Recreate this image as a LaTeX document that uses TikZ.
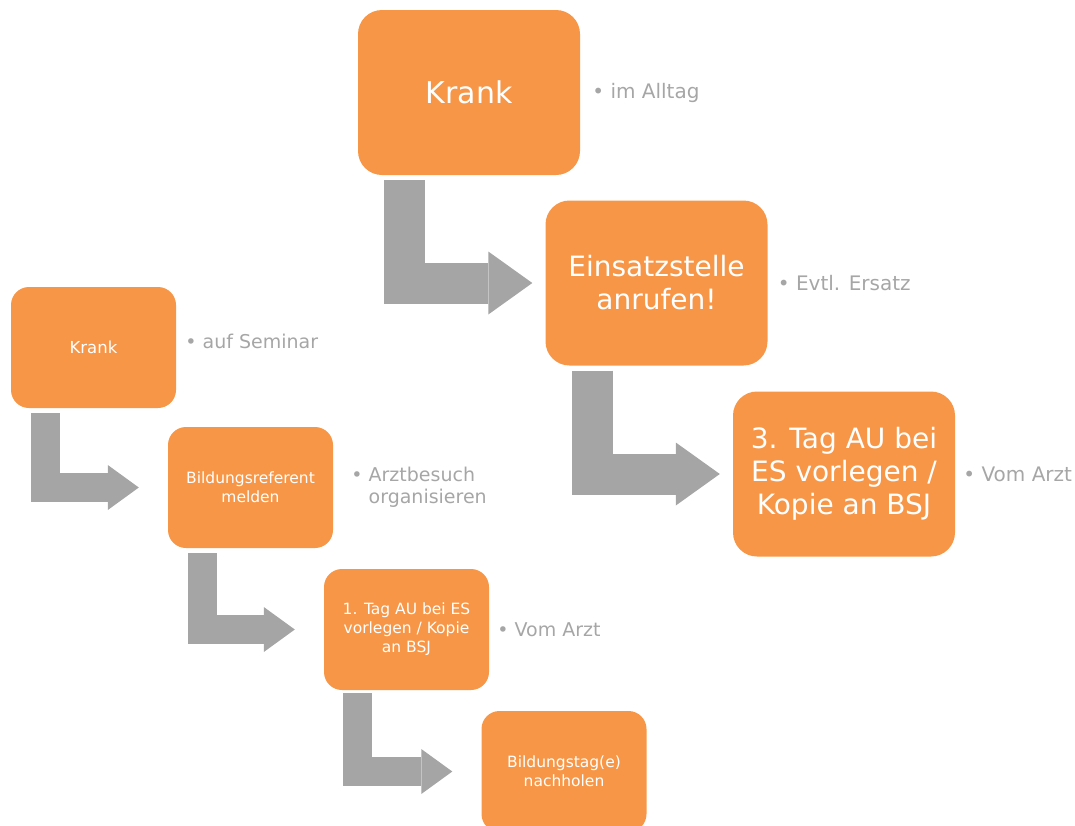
\documentclass[tikz,border=0pt]{standalone}
\usepackage{fontspec}
\setmainfont{DejaVu Sans}
\usetikzlibrary{arrows.meta}
\usetikzlibrary{positioning}
\definecolor{boxorange}{HTML}{F79646}
\definecolor{bendgray}{HTML}{A5A5A5}
\definecolor{notegray}{HTML}{A6A6A6}

\begin{document}
\begin{tikzpicture}[x=1pt,y=-1pt,
    bigbox/.style={rectangle,rounded corners=24pt,fill=boxorange,text=white,inner sep=0pt,
        minimum width=222pt,minimum height=165pt,align=center,font=\fontsize{28}{33}\selectfont},
    smallbox/.style={rectangle,rounded corners=18pt,fill=boxorange,text=white,inner sep=0pt,
        minimum width=165pt,minimum height=121pt,align=center,font=\fontsize{15.5}{19}\selectfont},
    note/.style={text=notegray,inner sep=0pt,align=left,font=\fontsize{20}{22}\selectfont},
    smallnote/.style={note,font=\fontsize{19}{22}\selectfont},
    bigbend/.style={draw=bendgray,line width=41pt,shorten >=13pt,
        -{Triangle[length=44pt,width=63pt,line width=0pt]}},
    smallbend/.style={draw=bendgray,line width=29pt,shorten >=29pt,
        -{Triangle[length=31pt,width=45pt,line width=0pt]}}]

    \useasboundingbox (0,0) rectangle (1075,825);
    \clip (0,0) rectangle (1075,825);

    % Im Alltag
    \node[bigbox,font=\fontsize{30}{33}\selectfont] (k1) at (469,92.5) {Krank};
    \node[bigbox] (e1) at (656.5,283) {Einsatzstelle\\anrufen!};
    \node[bigbox] (t3) at (844,474) {3. Tag AU bei\\ES vorlegen /\\Kopie an BSJ};

    \node[note,right=12pt of k1] (nk1) {•~im Alltag};
    \node[note,right=10pt of e1] (ne1) {•~Evtl. Ersatz};
    \node[note,right=8pt of t3] (nt3) {•~Vom Arzt};

    % Auf Seminar
    \node[smallbox,font=\fontsize{16.5}{19}\selectfont] (k2) at (93.5,347.5) {Krank};
    \node[smallbox] (b1) at (250.5,487.5) {Bildungsreferent\\melden};
    \node[smallbox] (t1) at (406.5,629.5) {1. Tag AU bei ES\\vorlegen / Kopie\\an BSJ};
    \node[smallbox] (n1) at (564,771.5) {Bildungstag(e)\\nachholen};

    \node[smallnote,right=9pt of k2,yshift=6pt] (nk2) {•~auf Seminar};
    \node[smallnote,right=18pt of b1] (nb1) {•~Arztbesuch\\\phantom{•~}organisieren};
    \node[smallnote,right=8pt of t1] (nt1) {•~Vom Arzt};

    % Pfeile
    \draw[bigbend] ([xshift=46.5pt,yshift=-5pt]k1.south west) |- (e1.west);
    \draw[bigbend] ([xshift=47pt,yshift=-5pt]e1.south west) |- (t3.west);
    \draw[smallbend] ([xshift=34.5pt,yshift=-5pt]k2.south west) |- (b1.west);
    \draw[smallbend] ([xshift=34.5pt,yshift=-5pt]b1.south west) |- (t1.west);
    \draw[smallbend] ([xshift=34pt,yshift=-3pt]t1.south west) |- (n1.west);

\end{tikzpicture}
\end{document}
